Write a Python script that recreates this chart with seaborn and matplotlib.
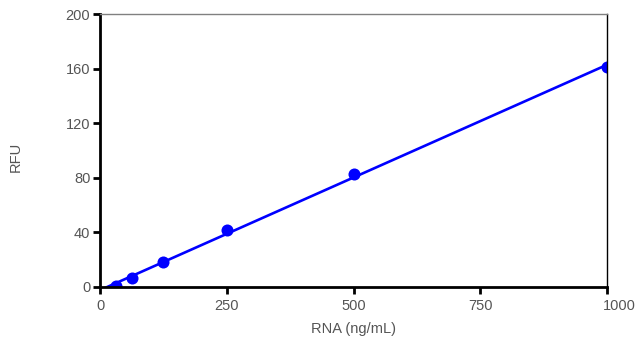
import numpy as np
import pandas as pd
import seaborn as sns
import matplotlib.pyplot as plt
from matplotlib.transforms import ScaledTranslation

sns.set_style("white")
plt.rcParams['font.family'] = ['Liberation Sans', 'DejaVu Sans']

rna = [31.25, 62.5, 125, 250, 500, 1000]
rfu = [1.0, 6.4, 18.1, 41.8, 82.8, 161.0]
df = pd.DataFrame({'RNA (ng/mL)': rna, 'RFU': rfu})

fig = plt.figure(figsize=(6.37, 3.39), dpi=100)
ax = fig.add_axes([0.157, 0.1534, 0.796, 0.8053])

sns.regplot(data=df, x='RNA (ng/mL)', y='RFU', ci=None, truncate=False, ax=ax,
            color='#0000ff', scatter_kws={'s': 75, 'alpha': 1, 'linewidths': 0},
            line_kws={'lw': 1.9})

ax.set_xlim(0, 1000)
ax.set_ylim(0, 200)
ax.set_xticks([0, 250, 500, 750, 1000])
ax.set_yticks([0, 40, 80, 120, 160, 200])

for side in ['left', 'bottom']:
    ax.spines[side].set_linewidth(2)
    ax.spines[side].set_color('black')
ax.spines['top'].set_linewidth(1)
ax.spines['top'].set_color('#808080')
ax.spines['right'].set_linewidth(1)
ax.spines['right'].set_color('black')

ax.tick_params(axis='both', direction='out', length=5, width=2, color='black',
               labelsize=10.5, labelcolor='#555555')
ax.tick_params(axis='x', pad=4)
ax.tick_params(axis='y', pad=2)
ax.tick_params(left=True, bottom=True)

# last x label is pushed inside the figure, as in the original
last = ax.get_xticklabels()[-1]
last.set_horizontalalignment('left')
last.set_transform(last.get_transform() + ScaledTranslation(-4 / 100, 0, fig.dpi_scale_trans))

ax.set_xlabel('RNA (ng/mL)', fontsize=10.5, color='#555555', labelpad=6)
ax.set_ylabel('RFU', fontsize=10.5, color='#555555')
ax.yaxis.set_label_coords(-0.153, 0.476)

fig.savefig('out.png', dpi=100)
